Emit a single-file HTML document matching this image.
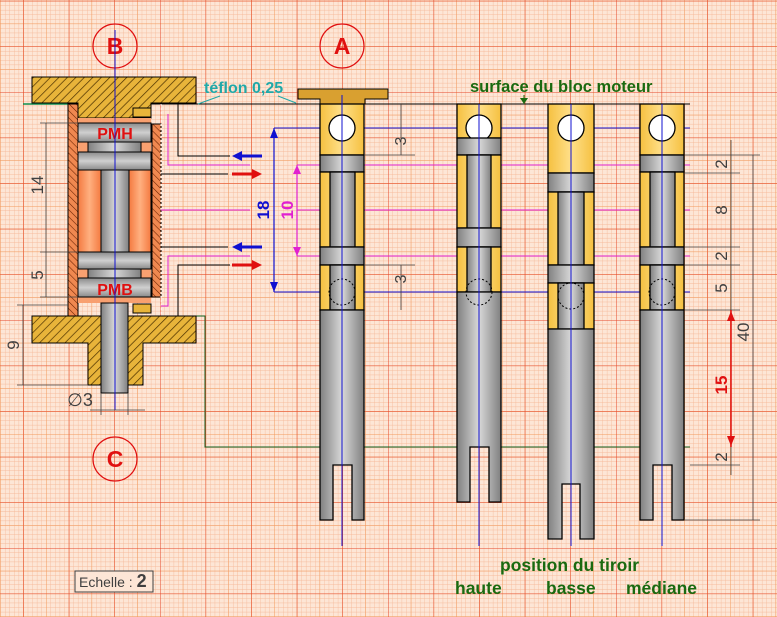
<!DOCTYPE html>
<html><head><meta charset="utf-8"><style>html,body{margin:0;padding:0;background:#fde6d6}svg{display:block}</style></head><body>
<svg width="777" height="617" viewBox="0 0 777 617" xmlns="http://www.w3.org/2000/svg" font-family="Liberation Sans, Arial, sans-serif">
<defs>
<pattern id="fine" x="23.2" y="0.8" width="4.56" height="4.56" patternUnits="userSpaceOnUse">
<path d="M0 0V4.56M0 0H4.56" stroke="#f5b898" stroke-width="0.8" fill="none"/></pattern>
<pattern id="mid" x="23.2" y="0.8" width="22.8" height="22.8" patternUnits="userSpaceOnUse">
<path d="M0 0V22.8M0 0H22.8" stroke="#f29a5c" stroke-width="1" fill="none"/></pattern>
<pattern id="maj" x="23.2" y="0.8" width="45.6" height="45.6" patternUnits="userSpaceOnUse">
<path d="M0 0V45.6M0 0H45.6" stroke="#e5462a" stroke-width="1" fill="none"/></pattern>
<pattern id="hy" width="6" height="6" patternUnits="userSpaceOnUse" patternTransform="rotate(45)">
<rect width="6" height="6" fill="#e8b43a"/><path d="M0 0V6" stroke="#4a3000" stroke-width="1.4"/></pattern>
<pattern id="ho" width="5" height="5" patternUnits="userSpaceOnUse" patternTransform="rotate(-45)">
<rect width="5" height="5" fill="#f08850"/><path d="M0 0V5" stroke="#6a2000" stroke-width="1.1"/></pattern>
<linearGradient id="g" x1="0" x2="1" y1="0" y2="0"><stop offset="0" stop-color="#808080"/><stop offset="0.5" stop-color="#d8d8d8"/><stop offset="1" stop-color="#808080"/></linearGradient>
<linearGradient id="gv" x1="0" x2="0" y1="0" y2="1"><stop offset="0" stop-color="#8a8a8a"/><stop offset="0.5" stop-color="#d0d0d0"/><stop offset="1" stop-color="#8a8a8a"/></linearGradient>
<linearGradient id="yl" x1="0" x2="1" y1="0" y2="0"><stop offset="0" stop-color="#f5c040"/><stop offset="0.5" stop-color="#ffe08a"/><stop offset="1" stop-color="#f5c040"/></linearGradient>
<linearGradient id="or" x1="0" x2="1" y1="0" y2="0"><stop offset="0" stop-color="#f47a40"/><stop offset="0.5" stop-color="#ffb080"/><stop offset="1" stop-color="#f47a40"/></linearGradient>
</defs>
<rect width="777" height="617" fill="#fde6d6"/>
<rect width="777" height="617" fill="url(#fine)"/>
<rect width="777" height="617" fill="url(#mid)"/>
<rect width="777" height="617" fill="url(#maj)"/>

<g fill="none" stroke="#e01010" stroke-width="1.2">
<circle cx="115" cy="46" r="22"/><circle cx="342" cy="46" r="22"/><circle cx="115" cy="459" r="22"/></g>
<g fill="#e01010" font-weight="bold" font-size="23" text-anchor="middle">
<text x="115" y="54">B</text><text x="342" y="54">A</text><text x="115" y="467">C</text></g>

<line x1="151" y1="104" x2="690" y2="104" stroke="#000" stroke-width="1"/>
<line x1="23" y1="104" x2="78" y2="104" stroke="#109050" stroke-width="1.5"/>
<line x1="274" y1="128" x2="690" y2="128" stroke="#1010d0"/>
<line x1="274" y1="292" x2="690" y2="292" stroke="#1010d0"/>
<line x1="297" y1="165" x2="690" y2="165" stroke="#e020d0"/>
<line x1="297" y1="210" x2="690" y2="210" stroke="#e020d0"/>
<line x1="297" y1="256" x2="690" y2="256" stroke="#e020d0"/>
<polyline points="196,316 205,316 205,447 690,447" fill="none" stroke="#106020"/>

<path d="M32 77H196V103H151V118H78V103H32Z" fill="url(#hy)" stroke="#000"/>
<path d="M32 316H68V297H78V316H161V316H196V343H143V385H88V343H32Z" fill="url(#hy)" stroke="#000"/>
<rect x="68" y="104" width="10" height="212" fill="url(#ho)" stroke="#000"/>
<rect x="152" y="124" width="9" height="173" fill="url(#ho)" stroke="#000"/>
<rect x="133" y="108" width="18" height="9" fill="#e8b43a" stroke="#000"/>
<rect x="133" y="304" width="18" height="9" fill="#e8b43a" stroke="#000"/>
<rect x="78" y="118" width="73" height="185" fill="#f8a070"/>
<rect x="78" y="123" width="73" height="19" fill="url(#gv)" stroke="#000"/>
<rect x="88" y="142" width="53" height="10" fill="url(#g)" stroke="#000"/>
<rect x="78" y="152" width="73" height="18" fill="url(#gv)" stroke="#000"/>
<rect x="78" y="170" width="23" height="82" fill="url(#or)" stroke="#000"/>
<rect x="129" y="170" width="22" height="82" fill="url(#or)" stroke="#000"/>
<rect x="101" y="170" width="28" height="82" fill="url(#g)" stroke="#000"/>
<rect x="78" y="252" width="73" height="17" fill="url(#gv)" stroke="#000"/>
<rect x="88" y="269" width="53" height="9" fill="url(#g)" stroke="#000"/>
<rect x="78" y="278" width="73" height="19" fill="url(#gv)" stroke="#000"/>
<rect x="101" y="303" width="27" height="90" fill="url(#g)" stroke="#000"/>
<g fill="#e01010" font-weight="bold" font-size="16" text-anchor="middle"><text x="115" y="139">PMH</text><text x="115" y="295">PMB</text></g>
<line x1="161" y1="104" x2="161" y2="316" stroke="#fff" stroke-dasharray="2,2"/>
<line x1="115" y1="30" x2="115" y2="410" stroke="#1010d0"/>

<g fill="none" stroke-width="1">
<polyline points="178,104 178,156 230,156" stroke="#000"/>
<polyline points="168,114 168,165 250,165" stroke="#e020d0"/>
<line x1="161" y1="174" x2="228" y2="174" stroke="#000"/>
<line x1="161" y1="210" x2="250" y2="210" stroke="#e020d0"/>
<line x1="161" y1="247" x2="228" y2="247" stroke="#000"/>
<polyline points="250,256 168,256 168,306 161,306" stroke="#e020d0"/>
<polyline points="230,265 178,265 178,316" stroke="#000"/>
</g>
<g stroke-width="3"><line x1="240" y1="156" x2="262" y2="156" stroke="#1010d0"/><line x1="232" y1="174" x2="254" y2="174" stroke="#e01010"/>
<line x1="240" y1="247" x2="262" y2="247" stroke="#1010d0"/><line x1="232" y1="265" x2="254" y2="265" stroke="#e01010"/></g>
<polygon points="232,156 242,151 242,161" fill="#1010d0"/><polygon points="262,174 252,169 252,179" fill="#e01010"/>
<polygon points="232,247 242,242 242,252" fill="#1010d0"/><polygon points="262,265 252,260 252,270" fill="#e01010"/>

<g stroke="#404040" stroke-width="0.8" fill="none">
<line x1="40" y1="123" x2="78" y2="123"/><line x1="40" y1="252" x2="78" y2="252"/><line x1="40" y1="297" x2="78" y2="297"/>
<line x1="46" y1="123" x2="46" y2="297"/>
<line x1="17" y1="305" x2="68" y2="305"/><line x1="17" y1="385" x2="88" y2="385"/><line x1="23" y1="305" x2="23" y2="385"/>
<line x1="101" y1="393" x2="101" y2="415"/><line x1="128" y1="393" x2="128" y2="415"/><line x1="90" y1="410" x2="145" y2="410"/>
</g>
<g fill="#404040" font-size="17" text-anchor="middle">
<text transform="translate(43,185) rotate(-90)">14</text><text transform="translate(43,275) rotate(-90)">5</text>
<text transform="translate(19,345) rotate(-90)">9</text><text x="80" y="406" font-size="18">∅3</text></g>

<line x1="274" y1="128" x2="274" y2="292" stroke="#1010d0" stroke-width="1.2"/>
<polygon points="274,128 270,138 278,138" fill="#1010d0"/><polygon points="274,292 270,282 278,282" fill="#1010d0"/>
<line x1="297" y1="165" x2="297" y2="256" stroke="#e020d0" stroke-width="1.2"/>
<polygon points="297,165 293,174 301,174" fill="#e020d0"/><polygon points="297,256 293,247 301,247" fill="#e020d0"/>
<text transform="translate(269,210) rotate(-90)" fill="#1010d0" font-weight="bold" font-size="17" text-anchor="middle">18</text>
<text transform="translate(293,210) rotate(-90)" fill="#e020d0" font-weight="bold" font-size="17" text-anchor="middle">10</text>

<text x="204" y="93" fill="#20a8a8" font-weight="bold" font-size="16">téflon 0,25</text>
<line x1="220" y1="96" x2="198" y2="104" stroke="#20a8a8"/><line x1="278" y1="96" x2="296" y2="103" stroke="#20a8a8"/>
<text x="470" y="92" fill="#1a6a10" font-weight="bold" font-size="16.5">surface du bloc moteur</text>
<line x1="524" y1="95" x2="524" y2="104" stroke="#1a6a10"/><polygon points="520,98 528,98 524,104" fill="#1a6a10"/>

<path d="M298 89H388V99H365V104H320V99H298Z" fill="#d9a030" stroke="#000"/>

<g id="p1" stroke="#000" stroke-width="1.3">
<rect x="320" y="104" width="44" height="51" fill="url(#yl)"/>
<circle cx="342" cy="128" r="13" fill="#fff"/>
<rect x="320" y="155" width="44" height="17" fill="url(#g)"/>
<rect x="320" y="172" width="44" height="75" fill="url(#yl)"/><rect x="330" y="172" width="25" height="75" fill="url(#g)"/>
<rect x="320" y="247" width="44" height="18" fill="url(#g)"/>
<rect x="320" y="265" width="44" height="45" fill="url(#yl)"/><rect x="330" y="265" width="25" height="45" fill="url(#g)"/>
<circle cx="342" cy="292" r="13" fill="none" stroke-dasharray="2,2" stroke-width="1"/>
<path d="M320 310H364V520H352V465H333V520H320Z" fill="url(#g)"/>
</g>
<use href="#p1" x="320"/>

<g stroke="#000" stroke-width="1.3">
<rect x="457" y="104" width="44" height="34" fill="url(#yl)"/>
<circle cx="479" cy="128" r="13" fill="#fff"/>
<rect x="457" y="138" width="44" height="17" fill="url(#g)"/>
<rect x="457" y="155" width="44" height="73" fill="url(#yl)"/><rect x="467" y="155" width="24" height="73" fill="url(#g)"/>
<rect x="457" y="228" width="44" height="19" fill="url(#g)"/>
<rect x="457" y="247" width="44" height="45" fill="url(#yl)"/><rect x="467" y="247" width="24" height="45" fill="url(#g)"/>
<path d="M457 292H501V502H489V447H470V502H457Z" fill="url(#g)"/>
<circle cx="479" cy="292" r="13" fill="none" stroke-dasharray="2,2" stroke-width="1"/>
</g>
<g stroke="#000" stroke-width="1.3">
<rect x="548" y="104" width="46" height="69" fill="url(#yl)"/>
<circle cx="571" cy="128" r="13" fill="#fff"/>
<rect x="548" y="173" width="46" height="19" fill="url(#g)"/>
<rect x="548" y="192" width="46" height="73" fill="url(#yl)"/><rect x="558" y="192" width="26" height="73" fill="url(#g)"/>
<rect x="548" y="265" width="46" height="18" fill="url(#g)"/>
<rect x="548" y="283" width="46" height="46" fill="url(#yl)"/><rect x="558" y="283" width="26" height="46" fill="url(#g)"/>
<circle cx="571" cy="296" r="13" fill="none" stroke-dasharray="2,2" stroke-width="1"/>
<path d="M548 329H594V539H580V484H562V539H548Z" fill="url(#g)"/>
</g>

<g stroke="#1010d0"><line x1="342" y1="95" x2="342" y2="546"/><line x1="479" y1="104" x2="479" y2="546"/><line x1="571" y1="104" x2="571" y2="546"/><line x1="662" y1="104" x2="662" y2="546"/></g>

<g stroke="#404040" stroke-width="0.8"><line x1="364" y1="155" x2="415" y2="155"/><line x1="364" y1="265" x2="415" y2="265"/><line x1="401" y1="104" x2="401" y2="155"/><line x1="401" y1="265" x2="401" y2="310"/></g>
<g fill="#404040" font-size="16" text-anchor="middle"><text transform="translate(406,141) rotate(-90)">3</text><text transform="translate(406,279) rotate(-90)">3</text></g>

<g stroke="#404040" stroke-width="0.8">
<line x1="685" y1="155" x2="760" y2="155"/><line x1="685" y1="173" x2="740" y2="173"/><line x1="685" y1="247" x2="740" y2="247"/><line x1="685" y1="265" x2="740" y2="265"/><line x1="685" y1="310" x2="740" y2="310"/><line x1="690" y1="465" x2="740" y2="465"/><line x1="685" y1="520" x2="760" y2="520"/>
<line x1="731" y1="140" x2="731" y2="310"/><line x1="731" y1="447" x2="731" y2="475"/><line x1="753" y1="155" x2="753" y2="520"/></g>
<line x1="731" y1="310" x2="731" y2="447" stroke="#e01010" stroke-width="1.5"/>
<polygon points="731,311 727,321 735,321" fill="#e01010"/><polygon points="731,446 727,436 735,436" fill="#e01010"/>
<g fill="#404040" font-size="17" text-anchor="middle">
<text transform="translate(727,164) rotate(-90)">2</text><text transform="translate(727,210) rotate(-90)">8</text><text transform="translate(727,256) rotate(-90)">2</text><text transform="translate(727,288) rotate(-90)">5</text><text transform="translate(727,457) rotate(-90)">2</text><text transform="translate(749,332) rotate(-90)">40</text></g>
<text transform="translate(727,385) rotate(-90)" fill="#e01010" font-weight="bold" font-size="17" text-anchor="middle">15</text>

<g fill="#1a6a10" font-weight="bold" font-size="17.5"><text x="500" y="571">position du tiroir</text><text x="455" y="594">haute</text><text x="546" y="594">basse</text><text x="626" y="594">médiane</text></g>
<rect x="75" y="571" width="78" height="21" fill="#fde6d6" stroke="#404040"/>
<text x="79" y="587" fill="#404040" font-size="14">Echelle : <tspan font-size="18" font-weight="bold">2</tspan></text>
</svg>
</body></html>
